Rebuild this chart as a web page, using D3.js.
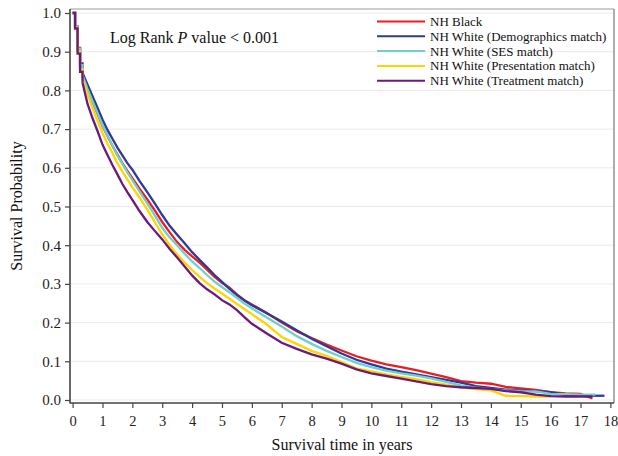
<!DOCTYPE html>
<html>
<head>
<meta charset="utf-8">
<script src="https://cdn.jsdelivr.net/npm/d3@7"></script>
<style>
  html, body { margin: 0; padding: 0; background: #fff; }
  svg { display: block; font-family: "Liberation Serif", "Times New Roman", serif; }
</style>
</head>
<body>
<svg id="chart" width="618" height="456"></svg>
<script>
// ---- data ----
const seriesNames = [
  "NH Black",
  "NH White (Demographics match)",
  "NH White (SES match)",
  "NH White (Presentation match)",
  "NH White (Treatment match)"
];
const seriesColors = ["#ec1c24", "#2e3a97", "#6fcfcf", "#ffd400", "#6b1a7c"];

const times = [0, 0.083, 0.167, 0.25, 0.333, 0.5, 0.667, 0.833, 1, 1.167, 1.333, 1.5, 1.667, 1.833, 2,
  2.25, 2.5, 2.75, 3, 3.25, 3.5, 3.75, 4, 4.25, 4.5, 4.75, 5, 5.25, 5.5, 5.75, 6,
  6.5, 7, 7.5, 8, 8.5, 9, 9.5, 10, 10.5, 11, 11.5, 12, 12.5, 13, 13.5, 14, 14.5, 15, 15.5, 16, 16.5, 17, 17.4];

const blackSurv = [1.0, 0.965, 0.905, 0.862, 0.835, 0.8, 0.77, 0.74, 0.708, 0.682, 0.657, 0.634, 0.612, 0.592, 0.573,
  0.545, 0.518, 0.49, 0.46, 0.433, 0.408, 0.388, 0.371, 0.355, 0.337, 0.318, 0.303, 0.29, 0.273, 0.258, 0.247,
  0.225, 0.2, 0.178, 0.16, 0.143, 0.128, 0.113, 0.102, 0.092, 0.085, 0.077, 0.068, 0.059, 0.049, 0.045, 0.042, 0.034, 0.03, 0.026, 0.02, 0.017, 0.016, 0.004];
const demoSurv = [1.0, 0.965, 0.91, 0.87, 0.845, 0.815, 0.785, 0.755, 0.725, 0.698, 0.675, 0.652, 0.632, 0.612, 0.595,
  0.565, 0.537, 0.508, 0.478, 0.45, 0.427, 0.405, 0.382, 0.362, 0.343, 0.323, 0.305, 0.287, 0.271, 0.257, 0.245,
  0.224, 0.203, 0.18, 0.158, 0.139, 0.12, 0.104, 0.092, 0.081, 0.073, 0.066, 0.059, 0.052, 0.045, 0.036, 0.031, 0.027, 0.025, 0.023, 0.02, 0.013, 0.012, 0.011];
const sesSurv = [1.0, 0.965, 0.908, 0.865, 0.838, 0.803, 0.772, 0.742, 0.71, 0.683, 0.657, 0.632, 0.61, 0.588, 0.568,
  0.538, 0.508, 0.477, 0.445, 0.42, 0.4, 0.378, 0.358, 0.341, 0.323, 0.306, 0.292, 0.278, 0.264, 0.249, 0.237,
  0.213, 0.19, 0.165, 0.145, 0.127, 0.111, 0.096, 0.085, 0.076, 0.069, 0.063, 0.056, 0.047, 0.038, 0.032, 0.028, 0.025, 0.023, 0.022, 0.016, 0.015, 0.014, 0.014];
const presSurv = [1.0, 0.962, 0.9, 0.855, 0.83, 0.79, 0.755, 0.722, 0.69, 0.663, 0.638, 0.612, 0.59, 0.57, 0.55,
  0.522, 0.492, 0.46, 0.428, 0.4, 0.376, 0.355, 0.336, 0.318, 0.302, 0.288, 0.275, 0.262, 0.248, 0.235, 0.222,
  0.195, 0.163, 0.145, 0.127, 0.114, 0.098, 0.082, 0.074, 0.066, 0.06, 0.054, 0.046, 0.04, 0.032, 0.028, 0.025, 0.011, 0.01, 0.009, 0.009, null, null, null];
const treatSurv = [1.0, 0.96, 0.895, 0.848, 0.82, 0.765, 0.728, 0.695, 0.66, 0.633, 0.607, 0.583, 0.558, 0.537, 0.517,
  0.487, 0.46, 0.437, 0.415, 0.39, 0.368, 0.345, 0.322, 0.302, 0.286, 0.273, 0.258, 0.247, 0.232, 0.214, 0.197,
  0.172, 0.148, 0.132, 0.118, 0.107, 0.094, 0.079, 0.069, 0.062, 0.055, 0.048, 0.041, 0.036, 0.033, 0.031, 0.029, 0.023, 0.02, 0.014, 0.01, 0.009, 0.009, 0.009];
const endTimes = [17.4, 17.8, 17.5, 16.0, 17.4];
const seriesValues = [blackSurv, demoSurv, sesSurv, presSurv, treatSurv];

const xTicks = d3.range(0, 19, 1);
const yTicks = [0, 0.1, 0.2, 0.3, 0.4, 0.5, 0.6, 0.7, 0.8, 0.9, 1.0];

// ---- layout ----
const svg = d3.select("#chart");
const frame = { left: 70, right: 614, top: 9, bottom: 403 };
const x = d3.scaleLinear().domain([0, 18]).range([72.6, 610.4]);
const y = d3.scaleLinear().domain([0, 1]).range([400, 13]);

svg.append("rect").attr("width", 618).attr("height", 456).attr("fill", "#fff");

// gridlines
svg.append("g").selectAll("line").data(yTicks).join("line")
  .attr("x1", frame.left).attr("x2", frame.right)
  .attr("y1", d => y(d)).attr("y2", d => y(d))
  .attr("stroke", "#ebebeb").attr("stroke-width", 1);

// frame (top/right)
svg.append("line").attr("x1", frame.left).attr("x2", frame.right).attr("y1", frame.top).attr("y2", frame.top)
  .attr("stroke", "#9a9a9a").attr("stroke-width", 1);
svg.append("line").attr("x1", frame.right).attr("x2", frame.right).attr("y1", frame.top).attr("y2", frame.bottom)
  .attr("stroke", "#777").attr("stroke-width", 1.2);

// curves: clear monthly steps at the start, fine stairs (drawn as a line) afterwards
const stepLine = d3.line().x(d => x(d[0])).y(d => y(d[1])).curve(d3.curveStepAfter);
const fineLine = d3.line().x(d => x(d[0])).y(d => y(d[1])).curve(d3.curveLinear);
const splitIdx = 4;
const gCurves = svg.append("g").attr("fill", "none").attr("stroke-width", 2.3).attr("stroke-linejoin", "miter");
seriesValues.forEach((vals, i) => {
  const pts = [];
  times.forEach((t, j) => { if (vals[j] !== null && vals[j] !== undefined) pts.push([t, vals[j]]); });
  const last = pts[pts.length - 1];
  const head = pts.slice(0, splitIdx + 1);
  const tail = pts.slice(splitIdx);
  gCurves.append("path").datum(head).attr("d", stepLine).attr("stroke", seriesColors[i]);
  gCurves.append("path").datum(tail).attr("d", fineLine).attr("stroke", seriesColors[i]);
  gCurves.append("path").datum([last, [endTimes[i], last[1]]]).attr("d", fineLine).attr("stroke", seriesColors[i]);
});

// axes
const yAxis = d3.axisLeft(y).tickValues(yTicks).tickFormat(d3.format(".1f")).tickSize(5).tickPadding(4);
const gy = svg.append("g").attr("transform", `translate(${frame.left},0)`).call(yAxis);
gy.select(".domain").remove();
gy.selectAll("line").attr("stroke", "#444").attr("stroke-width", 1.2);
gy.selectAll("text").attr("font-size", 15).attr("fill", "#222").attr("font-family", "Liberation Serif");

const xAxis = d3.axisBottom(x).tickValues(xTicks).tickFormat(d3.format("d")).tickSize(5).tickPadding(8);
const gx = svg.append("g").attr("transform", `translate(0,${frame.bottom})`).call(xAxis);
gx.select(".domain").remove();
gx.selectAll("line").attr("stroke", "#444").attr("stroke-width", 1.2);
gx.selectAll("text").attr("font-size", 14.5).attr("fill", "#222").attr("font-family", "Liberation Serif");

svg.append("line").attr("x1", frame.left).attr("x2", frame.left).attr("y1", frame.top).attr("y2", frame.bottom + 0.6)
  .attr("stroke", "#444").attr("stroke-width", 1.6);
svg.append("line").attr("x1", frame.left).attr("x2", frame.right).attr("y1", frame.bottom).attr("y2", frame.bottom)
  .attr("stroke", "#444").attr("stroke-width", 1.6);

// axis titles
svg.append("text").attr("x", (frame.left + frame.right) / 2).attr("y", 450)
  .attr("text-anchor", "middle").attr("font-size", 16).attr("fill", "#111")
  .text("Survival time in years");
svg.append("text").attr("transform", `translate(22,${(frame.top + frame.bottom) / 2}) rotate(-90)`)
  .attr("text-anchor", "middle").attr("font-size", 16).attr("fill", "#111")
  .text("Survival Probability");

// annotation
const ann = svg.append("text").attr("x", 110).attr("y", 43).attr("font-size", 16).attr("fill", "#111");
ann.append("tspan").text("Log Rank ");
ann.append("tspan").attr("font-style", "italic").text("P");
ann.append("tspan").text(" value < 0.001");

// legend
const leg = svg.append("g");
seriesNames.forEach((name, i) => {
  const cy = 21.5 + i * 14.8;
  leg.append("line").attr("x1", 377).attr("x2", 425).attr("y1", cy).attr("y2", cy)
    .attr("stroke", seriesColors[i]).attr("stroke-width", 2);
  leg.append("text").attr("x", 430).attr("y", cy + 4.5).attr("font-size", 13).attr("fill", "#111").text(name);
});
</script>
</body>
</html>
